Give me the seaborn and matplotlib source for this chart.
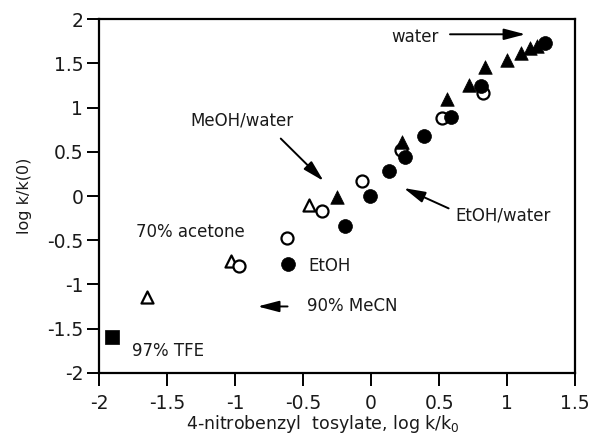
import matplotlib
matplotlib.use("Agg")
import matplotlib.pyplot as plt
import seaborn as sns

# values
open_tri_x = [-1.65, -1.03, -0.46]
open_tri_y = [-1.14, -0.74, -0.10]
open_circ_x = [-0.97, -0.62, -0.36, -0.07, 0.22, 0.52, 0.82]
open_circ_y = [-0.79, -0.47, -0.17, 0.17, 0.52, 0.88, 1.16]
filled_circ_x = [-0.61, -0.19, -0.01, 0.13, 0.25, 0.39, 0.59, 0.81, 1.28]
filled_circ_y = [-0.77, -0.34, 0.0, 0.28, 0.44, 0.68, 0.89, 1.24, 1.73]
filled_tri_x = [-0.25, 0.23, 0.56, 0.72, 0.84, 1.00, 1.10, 1.17, 1.22]
filled_tri_y = [-0.01, 0.61, 1.10, 1.26, 1.46, 1.54, 1.62, 1.67, 1.70]
square_x = [-1.91]
square_y = [-1.59]

x_ticks = [-2, -1.5, -1, -0.5, 0, 0.5, 1, 1.5]
y_ticks = [-2, -1.5, -1, -0.5, 0, 0.5, 1, 1.5, 2]

sns.set_style("ticks")
plt.rcParams['font.family'] = ['DejaVu Sans']
ink = '#1a1a1a'

fig = plt.figure(figsize=(5.91, 4.38), dpi=100)
ax = fig.add_axes([0.168, 0.149, 0.805, 0.807])

# open markers
sns.scatterplot(x=open_tri_x, y=open_tri_y, marker='^', s=75, facecolor='white',
                edgecolor='black', linewidth=1.6, ax=ax, zorder=3)
sns.scatterplot(x=open_circ_x, y=open_circ_y, marker='o', s=75, facecolor='white',
                edgecolor='black', linewidth=1.6, ax=ax, zorder=3)
# filled markers
sns.scatterplot(x=filled_circ_x, y=filled_circ_y, marker='o', s=100, color='black',
                edgecolor='black', linewidth=0.5, ax=ax, zorder=4)
sns.scatterplot(x=filled_tri_x, y=filled_tri_y, marker='^', s=95, color='black',
                edgecolor='black', linewidth=0.5, ax=ax, zorder=4)
sns.scatterplot(x=square_x, y=square_y, marker='s', s=100, color='black',
                edgecolor='black', linewidth=0.5, ax=ax, zorder=4)

ax.set_xlim(-2, 1.5)
ax.set_ylim(-2, 2)
ax.set_xticks(x_ticks)
ax.set_yticks(y_ticks)
ax.set_xticklabels([f"{t:g}" for t in x_ticks])
ax.set_yticklabels([f"{t:g}" for t in y_ticks])
ax.tick_params(direction='out', length=9, width=1.4, labelsize=13.5,
               colors='black', labelcolor=ink)
ax.tick_params(axis='x', pad=6)
ax.tick_params(axis='y', pad=2.5)
for sp in ax.spines.values():
    sp.set_visible(True)
    sp.set_linewidth(1.6)
    sp.set_color('black')

ax.set_xlabel("4-nitrobenzyl  tosylate, log k/k$_0$", fontsize=12.5, color=ink,
              labelpad=0, x=0.47)
ax.set_ylabel("log k/k(0)", fontsize=11.5, color=ink, labelpad=11)

# labels and arrows
arrow = dict(arrowstyle='-|>,head_length=0.65,head_width=0.17', color='black', lw=1.4,
             mutation_scale=20, shrinkA=0, shrinkB=0)
ax.text(0.15, 1.80, "water", fontsize=12, color=ink, ha='left', va='center')
ax.annotate("", xy=(1.135, 1.83), xytext=(0.58, 1.83), arrowprops=arrow)
ax.text(-0.95, 0.86, "MeOH/water", fontsize=12, color=ink, ha='center', va='center')
ax.annotate("", xy=(-0.35, 0.17), xytext=(-0.665, 0.65), arrowprops=arrow)
ax.text(0.62, -0.215, "EtOH/water", fontsize=12, color=ink, ha='left', va='center')
ax.annotate("", xy=(0.24, 0.09), xytext=(0.57, -0.14), arrowprops=arrow)
ax.text(-1.73, -0.41, "70% acetone", fontsize=12, color=ink, ha='left', va='center')
ax.text(-0.46, -0.79, "EtOH", fontsize=12, color=ink, ha='left', va='center')
ax.text(-0.47, -1.25, "90% MeCN", fontsize=12, color=ink, ha='left', va='center')
ax.annotate("", xy=(-0.835, -1.25), xytext=(-0.615, -1.25), arrowprops=arrow)
ax.text(-1.76, -1.75, "97% TFE", fontsize=12, color=ink, ha='left', va='center')

fig.savefig("out.png", dpi=100)
